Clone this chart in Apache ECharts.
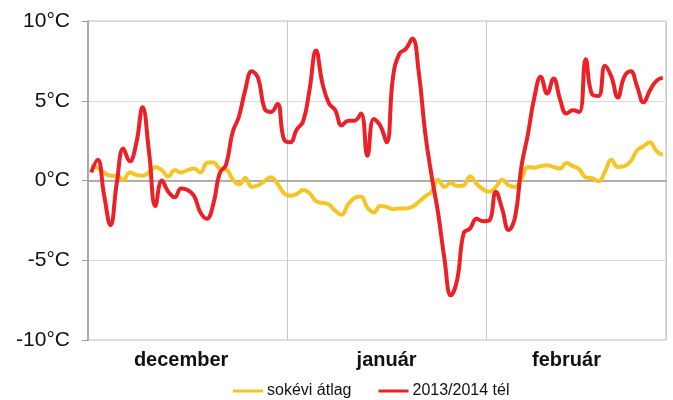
<!DOCTYPE html>
<html>
<head>
<meta charset="utf-8">
<script src="https://cdn.jsdelivr.net/npm/echarts@6/dist/echarts.min.js"></script>
<style>
  html, body { margin: 0; padding: 0; background: #fff; }
  #chart { width: 673px; height: 400px; }
</style>
</head>
<body>
<div id="chart"></div>
<script>
// one value per day, 1 December 2013 .. 28 February 2014
const monthNames = ['december', 'január', 'február']
const monthDays = [31, 31, 28]
const monthLabelDay = [14, 46, 74]
const yTicks = [-10, -5, 0, 5, 10]

const longTermAvg = [
  0.9, 0.8, 0.5, 0.3, 0.3, 0.05, 0.5, 0.35, 0.3, 0.5,
  0.85, 0.65, 0.25, 0.65, 0.5, 0.65, 0.75, 0.5, 1.1, 1.15,
  0.75, 0.7, 0.1, -0.25, 0.15, -0.4, -0.3, -0.05, 0.2, -0.2,
  -0.8, -0.95, -0.85, -0.6, -0.8, -1.3, -1.4, -1.5, -1.9, -2.15,
  -1.5, -1.1, -1.0, -1.7, -2.0, -1.6, -1.65, -1.8, -1.75, -1.75,
  -1.65, -1.35, -1.0, -0.7, 0.05, -0.4, -0.15, -0.35, -0.3, 0.25,
  -0.2, -0.55, -0.7, -0.4, 0.05, -0.3, -0.4, 0.1, 0.85, 0.8,
  0.9, 0.95, 0.85, 0.75, 1.1, 0.9, 0.7, 0.2, 0.15, -0.05,
  0.55, 1.3, 0.85, 0.9, 1.2, 1.9, 2.15, 2.4, 1.85, 1.6
]

const winter2014 = [
  0.5, 1.3, -0.9, -2.8, -0.1, 2.0, 1.2, 2.3, 4.6, 1.8,
  -1.6, 0.0, -0.7, -1.05, -0.5, -0.6, -0.95, -2.0, -2.4, -1.5,
  0.45, 1.0, 3.0, 4.0, 5.7, 6.85, 6.4, 4.5, 4.3, 4.8,
  2.6, 2.4, 3.2, 3.7, 5.7, 8.15, 6.1, 4.85, 4.4, 3.45,
  3.75, 3.75, 4.2, 1.55, 3.85, 3.45, 2.4, 6.5, 7.95, 8.25,
  8.9, 6.8, 3.0, 0.3, -2.0, -4.9, -7.2, -6.2, -3.3, -3.0,
  -2.4, -2.55, -2.5, -0.7, -1.8, -3.1, -2.3, 0.9, 2.9, 5.2,
  6.5, 5.45, 6.4, 5.1, 4.2, 4.4, 4.3, 7.6, 5.4, 5.3,
  7.2, 6.5, 5.2, 6.5, 6.85, 5.9, 4.9, 5.65, 6.25, 6.45
]

const days = []
const monthStart = []
monthNames.forEach((m, mi) => {
  monthStart.push(days.length)
  for (let d = 1; d <= monthDays[mi]; d++) days.push(m + ' ' + d)
})

const chart = echarts.init(document.getElementById('chart'))

chart.setOption({
  animation: false,
  textStyle: { fontFamily: 'Liberation Sans, Arial, sans-serif' },
  grid: {
    left: 88,
    right: 7,
    top: 21,
    bottom: 60,
    show: true,
    borderColor: '#c0c0c0',
    borderWidth: 1
  },
  legend: {
    left: 228,
    top: 378,
    itemWidth: 30,
    itemHeight: 3,
    itemGap: 27,
    icon: 'rect',
    textStyle: { fontSize: 16, color: '#111', padding: [0, 0, 0, -1] },
    data: ['sokévi átlag', '2013/2014 tél']
  },
  xAxis: {
    type: 'category',
    data: days,
    boundaryGap: true,
    axisLine: { lineStyle: { color: '#999', width: 1.5 } },
    axisTick: { show: false },
    splitLine: {
      show: true,
      interval: (i) => monthStart.indexOf(i) > 0,
      lineStyle: { color: '#c8c8c8', width: 1 }
    },
    axisLabel: {
      interval: (i) => monthLabelDay.indexOf(i) >= 0,
      formatter: (v, i) => monthNames[monthLabelDay.indexOf(i)],
      fontSize: 20,
      fontWeight: 'bold',
      color: '#111',
      margin: 10
    }
  },
  yAxis: {
    type: 'value',
    min: yTicks[0],
    max: yTicks[yTicks.length - 1],
    interval: 5,
    axisLine: { show: true, lineStyle: { color: '#999', width: 1.5 } },
    axisTick: { show: true, length: 6, lineStyle: { color: '#999' } },
    splitLine: { lineStyle: { color: '#dadada', width: 1 } },
    axisLabel: {
      formatter: '{value}°C',
      fontSize: 21,
      color: '#111',
      margin: 18
    }
  },
  series: [
    {
      name: 'sokévi átlag',
      type: 'line',
      data: longTermAvg,
      smooth: 0.45,
      showSymbol: false,
      color: '#F5C425',
      lineStyle: { width: 4, color: '#F5C425' },
      z: 2
    },
    {
      name: '2013/2014 tél',
      type: 'line',
      data: winter2014,
      smooth: 0.45,
      showSymbol: false,
      color: '#EC2027',
      lineStyle: { width: 4, color: '#EC2027' },
      z: 3
    }
  ]
})
</script>
</body>
</html>
